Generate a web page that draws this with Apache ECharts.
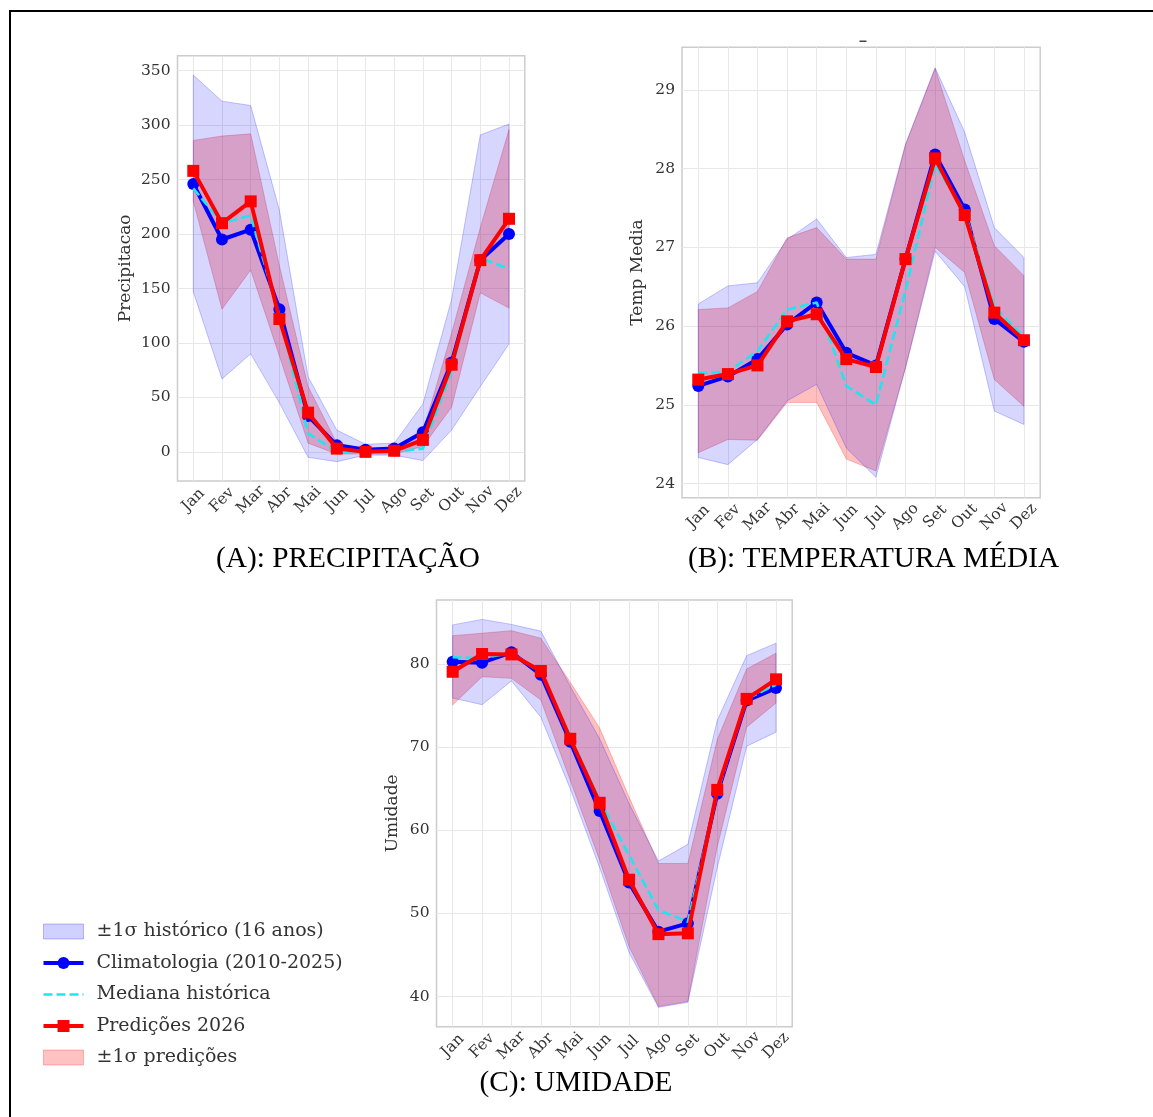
<!DOCTYPE html>
<html>
<head>
<meta charset="utf-8">
<script src="https://cdn.jsdelivr.net/npm/echarts@6/dist/echarts.min.js"></script>
<style>
html,body{margin:0;padding:0;background:#fff;}
#chart{width:1153px;height:1117px;}
</style>
</head>
<body>
<div id="chart"></div>
<script>
const months = ['Jan','Fev','Mar','Abr','Mai','Jun','Jul','Ago','Set','Out','Nov','Dez'];
const monthIdx = [0,1,2,3,4,5,6,7,8,9,10,11];

// (A) Precipitação
const precipTicks = [0,50,100,150,200,250,300,350];
const precipClim = [246, 195, 204, 131, 33, 6, 2, 3, 18, 82, 176, 200];
const precipMedian = [242, 210, 217, 125, 17, 0, 0, 0, 3, 74, 178, 168];
const precipPred = [258, 210, 230, 122, 36, 3, 0, 1, 11, 80, 176, 214];
const precipHistLow = [147, 67, 90, 45, -5, -9, -3, -3, -8, 20, 60, 99];
const precipHistHigh = [346, 322, 318, 222, 69, 20, 7, 8, 44, 140, 291, 301];
const precipPredLow = [230, 131, 167, 88, 8, -2, -2, -2, 5, 41, 146, 132];
const precipPredHigh = [286, 290, 292, 171, 60, 8, 3, 4, 18, 109, 206, 296];

// (B) Temperatura média
const tempTicks = [24,25,26,27,28,29];
const tempClim = [25.24, 25.36, 25.58, 26.02, 26.30, 25.66, 25.50, 26.85, 28.18, 27.48, 26.09, 25.80];
const tempMedian = [25.40, 25.42, 25.68, 26.21, 26.30, 25.24, 25.00, 26.45, 28.05, 27.45, 26.25, 25.86];
const tempPred = [25.32, 25.39, 25.50, 26.06, 26.15, 25.58, 25.48, 26.85, 28.13, 27.41, 26.17, 25.82];
const tempHistLow = [24.33, 24.24, 24.56, 25.05, 25.26, 24.45, 24.08, 25.47, 26.95, 26.50, 24.92, 24.75];
const tempHistHigh = [26.28, 26.51, 26.55, 27.10, 27.36, 26.87, 26.91, 28.31, 29.28, 28.46, 27.25, 26.87];
const tempPredLow = [24.39, 24.56, 24.55, 25.03, 25.03, 24.31, 24.16, 25.47, 27.00, 26.68, 25.32, 24.98];
const tempPredHigh = [26.21, 26.23, 26.44, 27.12, 27.25, 26.85, 26.85, 28.30, 29.27, 28.10, 27.02, 26.64];

// (C) Umidade
const humTicks = [40,50,60,70,80];
const humClim = [80.26, 80.15, 81.4, 78.7, 70.65, 62.3, 53.7, 47.8, 48.8, 64.4, 75.6, 77.1];
const humMedian = [80.8, 80.7, 81.3, 79.0, 71.3, 63.6, 57.0, 50.4, 49.0, 64.5, 75.8, 77.5];
const humPred = [79.06, 81.2, 81.15, 79.15, 71.0, 63.3, 54.05, 47.5, 47.6, 64.85, 75.8, 78.15];
const humHistLow = [75.9, 75.1, 77.95, 73.6, 65.0, 55.5, 45.3, 38.7, 39.3, 55.5, 70.1, 71.8];
const humHistHigh = [84.7, 85.36, 84.76, 83.95, 77.3, 71.0, 63.2, 56.3, 58.3, 73.2, 81.0, 82.5];
const humPredLow = [75.06, 78.46, 78.27, 75.66, 66.0, 56.4, 46.0, 38.8, 39.4, 58.0, 72.4, 75.3];
const humPredHigh = [83.4, 83.7, 84.0, 83.1, 77.8, 72.3, 64.0, 56.0, 56.0, 70.9, 79.4, 81.3];

const NAME_HIST = '±1σ histórico (16 anos)';
const NAME_CLIM = 'Climatologia (2010-2025)';
const NAME_MED = 'Mediana histórica';
const NAME_PRED = 'Predições 2026';
const NAME_PBAND = '±1σ predições';

const FONT = 'DejaVu Serif';
const HIST_FILL = 'rgba(0,0,255,0.16)';
const HIST_EDGE = 'rgba(0,0,255,0.22)';
const PRED_FILL = 'rgba(255,0,0,0.25)';
const PRED_EDGE = 'rgba(220,0,0,0.22)';
const CYAN = '#1ee6ee';

const panels = [
  {name:'Precipitacao', ticks:precipTicks, clim:precipClim, med:precipMedian, pred:precipPred,
   hl:precipHistLow, hh:precipHistHigh, pl:precipPredLow, ph:precipPredHigh,
   grid:{left:177.5, top:55.7, width:347.3, height:425.3}, nameGap:43},
  {name:'Temp Media', ticks:tempTicks, clim:tempClim, med:tempMedian, pred:tempPred,
   hl:tempHistLow, hh:tempHistHigh, pl:tempPredLow, ph:tempPredHigh,
   grid:{left:682, top:47.3, width:358.2, height:450.4}, nameGap:36},
  {name:'Umidade', ticks:humTicks, clim:humClim, med:humMedian, pred:humPred,
   hl:humHistLow, hh:humHistHigh, pl:humPredLow, ph:humPredHigh,
   grid:{left:436.5, top:600, width:355.7, height:426.7}, nameGap:35}
];

function bandSeries(name, g, low, high, fill, edge, z) {
  return {
    type:'custom', name:name, xAxisIndex:g, yAxisIndex:g, z:z, silent:true,
    itemStyle:{color:fill},
    data: low.map((l,i)=>[i,l,high[i]]),
    encode:{x:0, y:[1,2]},
    renderItem:function(params, api){
      if (params.dataIndex !== 0) return null;
      const pts = [];
      for (let i=0;i<high.length;i++) pts.push(api.coord([i, high[i]]));
      for (let i=low.length-1;i>=0;i--) pts.push(api.coord([i, low[i]]));
      return {type:'polygon', shape:{points:pts}, style:{fill:fill, stroke:edge, lineWidth:1}};
    }
  };
}

const grids=[], xAxes=[], yAxes=[], series=[];
panels.forEach((p,g)=>{
  grids.push(Object.assign({show:true, backgroundColor:'#fff', borderColor:'#cccccc', borderWidth:1.5, containLabel:false}, p.grid));
  xAxes.push({
    type:'value', gridIndex:g, min:-0.55, max:11.55,
    axisLine:{show:false},
    axisTick:{show:false, customValues:monthIdx},
    axisLabel:{customValues:monthIdx, formatter:(v)=>months[Math.round(v)], rotate:45, align:'center', verticalAlign:'middle',
      margin:19, fontSize:15.5, fontFamily:FONT, color:'#333'},
    splitLine:{show:true, lineStyle:{color:'#e8e8e8', width:1}}
  });
  const all = [].concat(p.clim,p.med,p.pred,p.hl,p.hh,p.pl,p.ph);
  const mn = Math.min.apply(null, all), mx = Math.max.apply(null, all);
  const pad = (mx-mn)*0.05;
  yAxes.push({
    type:'value', gridIndex:g, min:mn-pad, max:mx+pad,
    name:p.name, nameLocation:'middle', nameGap:p.nameGap,
    nameTextStyle:{fontFamily:FONT, fontSize:17, color:'#333'},
    axisLine:{show:false},
    axisTick:{show:false, customValues:p.ticks},
    axisLabel:{customValues:p.ticks, margin:7, fontSize:15.5, fontFamily:FONT, color:'#333'},
    splitLine:{show:true, lineStyle:{color:'#e8e8e8', width:1}}
  });
  series.push(bandSeries(NAME_PBAND, g, p.pl, p.ph, PRED_FILL, PRED_EDGE, 1));
  series.push(bandSeries(NAME_HIST, g, p.hl, p.hh, HIST_FILL, HIST_EDGE, 1));
  series.push({type:'line', name:NAME_CLIM, xAxisIndex:g, yAxisIndex:g, z:3,
    data:p.clim.map((v,i)=>[i,v]), symbol:'circle', symbolSize:12, showSymbol:true,
    lineStyle:{color:'#0000ff', width:4}, itemStyle:{color:'#0000ff'}, emphasis:{disabled:true}});
  series.push({type:'line', name:NAME_MED, xAxisIndex:g, yAxisIndex:g, z:4,
    data:p.med.map((v,i)=>[i,v]), symbol:'none',
    lineStyle:{color:CYAN, width:2.6, type:[9,4]}, itemStyle:{color:CYAN}, emphasis:{disabled:true}});
  series.push({type:'line', name:NAME_PRED, xAxisIndex:g, yAxisIndex:g, z:5,
    data:p.pred.map((v,i)=>[i,v]), symbol:'rect', symbolSize:12, showSymbol:true,
    lineStyle:{color:'#ff0000', width:4}, itemStyle:{color:'#ff0000'}, emphasis:{disabled:true}});
});

const chart = echarts.init(document.getElementById('chart'), null, {renderer:'canvas'});
chart.setOption({
  backgroundColor:'#ffffff',
  animation:false,
  grid:grids, xAxis:xAxes, yAxis:yAxes, series:series,
  legend:{
    orient:'vertical', left:41.5, top:922, padding:0, itemWidth:40, itemHeight:15, itemGap:12.5,
    selectedMode:false,
    textStyle:{fontFamily:FONT, fontSize:19, color:'#333', padding:[0,0,0,8]},
    data:[
      {name:NAME_HIST, icon:'rect', itemStyle:{color:'rgba(0,0,255,0.18)', borderColor:'rgba(0,0,255,0.25)', borderWidth:1}},
      {name:NAME_CLIM, lineStyle:{width:4, color:'#0000ff'}},
      {name:NAME_MED, lineStyle:{width:2.6, color:CYAN, type:[9,4]}, itemStyle:{color:'rgba(0,0,0,0)', borderWidth:0, opacity:0}},
      {name:NAME_PRED, lineStyle:{width:4, color:'#ff0000'}},
      {name:NAME_PBAND, icon:'rect', itemStyle:{color:'rgba(255,0,0,0.24)', borderColor:'rgba(255,0,0,0.25)', borderWidth:1}}
    ]
  },
  graphic:[
    {type:'rect', shape:{x:10, y:11, width:1170, height:1130}, style:{fill:null, stroke:'#000', lineWidth:2}, silent:true},
    {type:'rect', shape:{x:859.5, y:40.5, width:7, height:1.5}, style:{fill:'#444'}, silent:true},
    {type:'text', x:348, y:559, style:{text:'(A): PRECIPITAÇÃO', fontFamily:'Liberation Serif', fontSize:29.3, fill:'#000', align:'center', verticalAlign:'middle'}},
    {type:'text', x:873.5, y:559, style:{text:'(B): TEMPERATURA MÉDIA', fontFamily:'Liberation Serif', fontSize:29.3, fill:'#000', align:'center', verticalAlign:'middle'}},
    {type:'text', x:576, y:1083, style:{text:'(C): UMIDADE', fontFamily:'Liberation Serif', fontSize:29.3, fill:'#000', align:'center', verticalAlign:'middle'}}
  ]
});
</script>
</body>
</html>
